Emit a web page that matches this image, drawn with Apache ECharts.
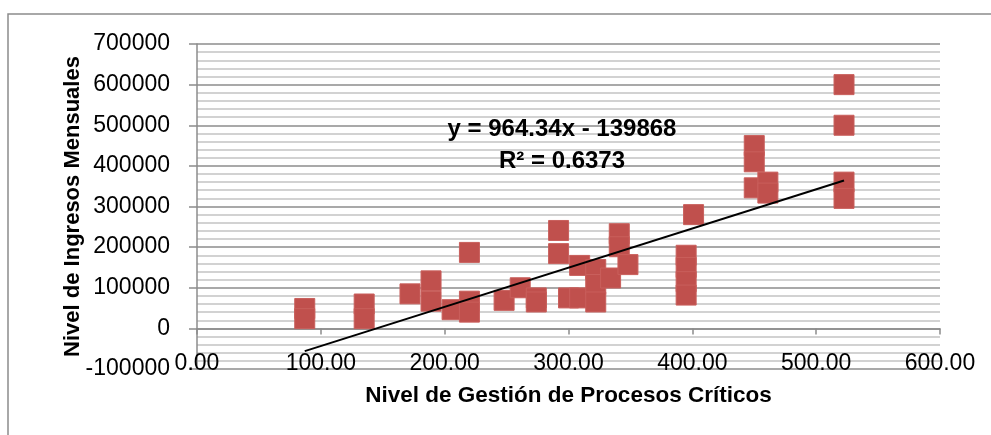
<!DOCTYPE html>
<html>
<head>
<meta charset="utf-8">
<script src="https://cdn.jsdelivr.net/npm/echarts@6/dist/echarts.min.js"></script>
<style>
html,body{margin:0;padding:0;background:#fff;}
#chart{width:991px;height:435px;}
</style>
</head>
<body>
<div id="chart"></div>
<script>
// Data
const xValues = [87, 87, 135, 135, 172, 189, 189, 206, 220, 220, 220, 248, 261, 274, 274,
  292, 292, 300, 309, 309, 322, 322, 322, 334, 341, 341, 348,
  395, 395, 395, 395, 401, 450, 450, 450, 461, 461, 522.5, 522.5, 522.5, 522.5];
const yValues = [49000, 24000, 60000, 24000, 85000, 117000, 67000, 46000, 187000, 67000, 40000, 69000, 100000, 75000, 65000,
  241000, 184000, 75000, 155000, 75000, 145000, 108000, 65000, 124000, 233000, 201000, 157000,
  180000, 150000, 115000, 82000, 280000, 450000, 410000, 346000, 360000, 333000, 600000, 500000, 360000, 320000];
const trendSlope = 964.34;
const trendIntercept = -139868;
const equationText = 'y = 964.34x - 139868';
const r2Text = 'R² = 0.6373';
const xTitle = 'Nivel de Gestión de Procesos Críticos';
const yTitle = 'Nivel de Ingresos Mensuales';

const points = xValues.map((x, i) => [x, yValues[i]]);
const xMin = Math.min(...xValues), xMax = Math.max(...xValues);
const trend = [[xMin, trendSlope * xMin + trendIntercept], [xMax, trendSlope * xMax + trendIntercept]];

const FONT = 'Liberation Sans';
const chart = echarts.init(document.getElementById('chart'), null, {renderer: 'canvas'});
chart.setOption({
  animation: false,
  backgroundColor: '#ffffff',
  grid: {left: 197, right: 51, top: 44, bottom: 66, containLabel: false, outerBoundsMode: 'none'},
  graphic: [
    {type: 'rect', shape: {x: 8, y: 14, width: 1000, height: 500}, style: {fill: 'none', stroke: '#8c8c8c', lineWidth: 1.5}, z: -1},
    {type: 'text', x: 562, y: 129, style: {text: equationText, font: 'bold 24px "' + FONT + '"', fill: '#000', align: 'center', verticalAlign: 'middle'}, z: 10},
    {type: 'text', x: 562, y: 161, style: {text: r2Text, font: 'bold 24px "' + FONT + '"', fill: '#000', align: 'center', verticalAlign: 'middle'}, z: 10}
  ],
  xAxis: {
    type: 'value', min: 0, max: 600, interval: 100,
    name: xTitle, nameLocation: 'middle', nameGap: 15, nameMoveOverlap: false,
    nameTextStyle: {fontFamily: FONT, fontWeight: 'bold', fontSize: 22.5, color: '#000'},
    axisLine: {show: true, onZero: true, lineStyle: {color: '#8c8c8c', width: 1.5}},
    axisTick: {show: true, length: 6, lineStyle: {color: '#8c8c8c', width: 1.5}},
    axisLabel: {formatter: v => v.toFixed(2), fontFamily: FONT, fontSize: 23, color: '#000', margin: -17},
    splitLine: {show: false}
  },
  yAxis: {
    type: 'value', min: -100000, max: 700000, interval: 100000,
    name: yTitle, nameLocation: 'middle', nameGap: 113, nameRotate: 90, nameMoveOverlap: false,
    nameTextStyle: {fontFamily: FONT, fontWeight: 'bold', fontSize: 22, color: '#000'},
    axisLine: {show: true, lineStyle: {color: '#8c8c8c', width: 1.5}},
    axisTick: {show: true, length: 8, lineStyle: {color: '#8c8c8c', width: 1.5}},
    axisLabel: {formatter: v => String(v), fontFamily: FONT, fontSize: 23, color: '#000', margin: 27},
    splitLine: {show: true, lineStyle: {color: '#8c8c8c', width: 1.5}},
    minorTick: {show: false, splitNumber: 5},
    minorSplitLine: {show: true, lineStyle: {color: '#c3c3c3', width: 1.5}}
  },
  series: [
    {
      type: 'scatter', data: points, symbol: 'rect', symbolSize: 20,
      itemStyle: {color: '#C0504D', borderColor: '#C95F5C', borderWidth: 1, opacity: 1},
      z: 3
    },
    {
      type: 'line', data: trend, symbol: 'none', silent: true,
      lineStyle: {color: '#000', width: 2}, z: 5
    }
  ]
});
</script>
</body>
</html>
